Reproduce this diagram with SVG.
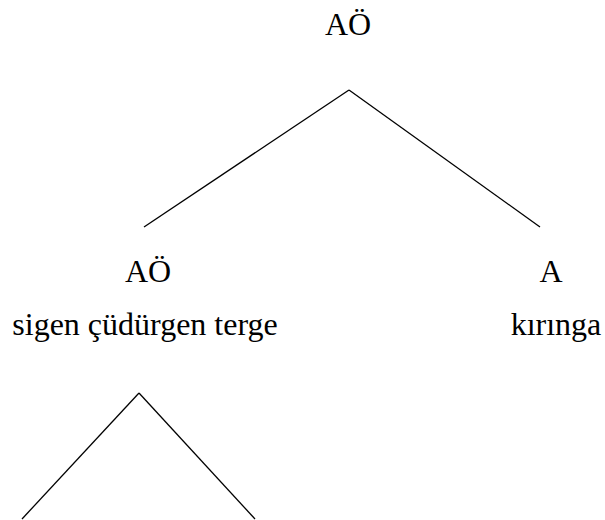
<svg xmlns="http://www.w3.org/2000/svg" width="605" height="520" viewBox="0 0 605 520">
<style>
text{font-family:'Liberation Serif','Times New Roman',Tinos,'DejaVu Serif',serif;font-size:32px;fill:#000;text-anchor:middle}
line{stroke:#000;stroke-width:1.3}
</style>
<rect width="605" height="520" fill="#fff"/>
<g id="connectors">
<line x1="349" y1="90" x2="144" y2="227"/>
<line x1="349" y1="90" x2="540" y2="227"/>
<line x1="139" y1="393" x2="22" y2="519"/>
<line x1="139" y1="393" x2="255" y2="519"/>
</g>
<g id="root"><text x="348" y="35" font-family="Liberation Serif, serif">AÖ</text></g>
<g id="left"><text x="148" y="282" font-family="Liberation Serif, serif">AÖ</text><text x="145" y="335" font-family="Liberation Serif, serif">sigen çüdürgen terge</text></g>
<g id="right"><text x="551" y="282" font-family="Liberation Serif, serif">A</text><text x="556" y="335" font-family="Liberation Serif, serif">kırınga</text></g>
</svg>
